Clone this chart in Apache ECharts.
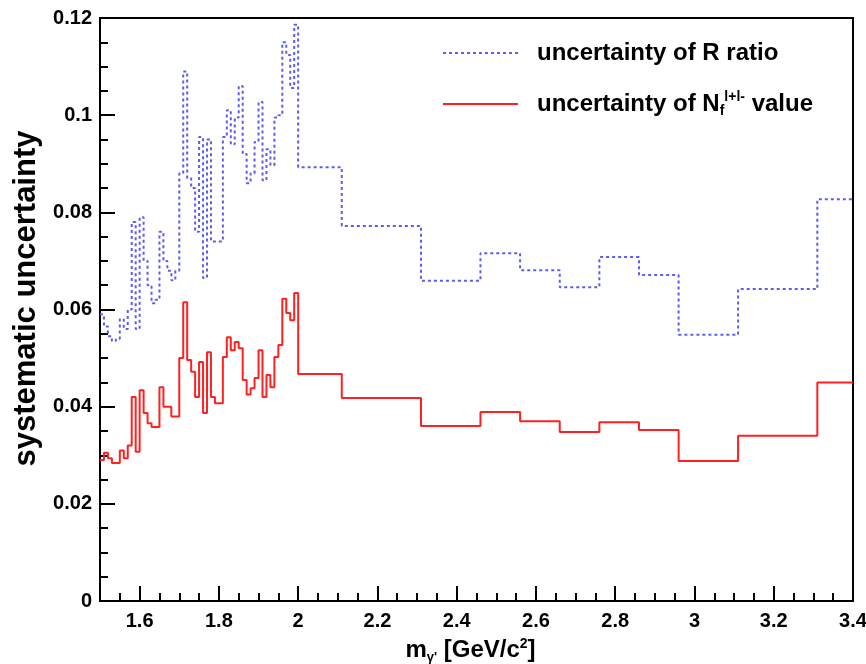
<!DOCTYPE html>
<html>
<head>
<meta charset="utf-8">
<script src="https://cdn.jsdelivr.net/npm/echarts@6/dist/echarts.min.js"></script>
<style>
  html, body { margin: 0; padding: 0; background: #fff; }
  #main { width: 866px; height: 664px; }
</style>
</head>
<body>
<div id="main"></div>
<script>
// fine bins 1.50 - 2.00, width 0.01
var fineStart = 1.5;
var fineWidth = 0.01;
var redFine = [
  0.029, 0.0305, 0.0294, 0.0284, 0.0284, 0.031, 0.0294, 0.032, 0.042, 0.0307,
  0.0434, 0.0387, 0.0366, 0.0358, 0.0358, 0.044, 0.040, 0.040, 0.038, 0.038,
  0.050, 0.0615, 0.0496, 0.0472, 0.042, 0.0492, 0.0387, 0.0512, 0.042, 0.0407,
  0.0407, 0.0502, 0.0543, 0.0516, 0.0533, 0.052, 0.0455, 0.0425, 0.0438, 0.0459,
  0.0516, 0.042, 0.0465, 0.044, 0.0502, 0.0527, 0.0622, 0.0593, 0.0578, 0.0634
];
var blueFine = [
  0.059, 0.0565, 0.0545, 0.0535, 0.054, 0.058, 0.056, 0.060, 0.078, 0.056,
  0.079, 0.070, 0.065, 0.0613, 0.062, 0.076, 0.070, 0.068, 0.066, 0.068,
  0.088, 0.109, 0.087, 0.085, 0.076, 0.0955, 0.0665, 0.095, 0.074, 0.074,
  0.074, 0.0955, 0.101, 0.094, 0.0995, 0.106, 0.092, 0.086, 0.088, 0.0945,
  0.1027, 0.0866, 0.093, 0.0897, 0.0995, 0.100, 0.115, 0.1124, 0.1056, 0.1186
];
// wide bins above 2.0
var wideEdges = [2.0, 2.11, 2.31, 2.46, 2.56, 2.66, 2.76, 2.86, 2.96, 3.11, 3.31, 3.4];
var redWide = [0.0467, 0.0418, 0.036, 0.0389, 0.037, 0.0348, 0.0368, 0.0352, 0.0288, 0.034, 0.045];
var blueWide = [0.0893, 0.0772, 0.0659, 0.0716, 0.0681, 0.0646, 0.0708, 0.0671, 0.0548, 0.0642, 0.0827];

var xMajorTicks = [1.6, 1.8, 2.0, 2.2, 2.4, 2.6, 2.8, 3.0, 3.2, 3.4];
var xMinorTicks = [1.55, 1.6, 1.65, 1.7, 1.75, 1.8, 1.85, 1.9, 1.95, 2.0, 2.05, 2.1, 2.15, 2.2,
  2.25, 2.3, 2.35, 2.4, 2.45, 2.5, 2.55, 2.6, 2.65, 2.7, 2.75, 2.8, 2.85, 2.9, 2.95, 3.0,
  3.05, 3.1, 3.15, 3.2, 3.25, 3.3, 3.35];

var seriesNames = ['uncertainty of R ratio', 'uncertainty of N_f^l+l- value'];

function histPoints(fine, wide) {
  var pts = [];
  for (var i = 0; i < fine.length; i++) {
    pts.push([+(fineStart + i * fineWidth).toFixed(2), fine[i]]);
  }
  for (var j = 0; j < wide.length; j++) {
    pts.push([wideEdges[j], wide[j]]);
  }
  pts.push([wideEdges[wideEdges.length - 1], wide[wide.length - 1]]);
  return pts;
}

var FONT = '"Liberation Sans", Arial, Helvetica, sans-serif';
var myChart = echarts.init(document.getElementById('main'));

var option = {
  backgroundColor: '#fff',
  animation: false,
  grid: {
    left: 100, right: 13, top: 18, bottom: 63,
    outerBoundsMode: 'none',
    containLabel: false,
    show: true, borderColor: '#000', borderWidth: 2, backgroundColor: 'transparent'
  },
  legend: {
    orient: 'vertical',
    left: 437,
    top: 36,
    itemWidth: 75,
    itemHeight: 14,
    itemGap: 25,
    itemStyle: { opacity: 0 },
    data: seriesNames,
    formatter: function (name) {
      if (name === seriesNames[1]) {
        return '{t|uncertainty of N}{sub|f}{sup|l+l-}{t| value}';
      }
      return '{t|' + name + '}';
    },
    textStyle: {
      fontFamily: FONT,
      fontWeight: 'bold',
      fontSize: 24,
      color: '#000',
      padding: [0, 0, 0, 14],
      rich: {
        t: { fontFamily: FONT, fontWeight: 'bold', fontSize: 24, color: '#000' },
        sub: { fontFamily: FONT, fontWeight: 'bold', fontSize: 14, color: '#000', verticalAlign: 'bottom', padding: [14, 0, 0, 0] },
        sup: { fontFamily: FONT, fontWeight: 'bold', fontSize: 14, color: '#000', verticalAlign: 'top', padding: [0, 0, 14, 0] }
      }
    }
  },
  xAxis: [{
    type: 'value',
    min: 1.5,
    max: 3.4,
    position: 'bottom',
    name: '{t|m}{sub|γ\'}{t| [GeV/c}{sup|2}{t|]}',
    nameLocation: 'middle',
    nameGap: 36,
    nameTextStyle: {
      padding: [0, 12, 0, 0],
      rich: {
        t: { fontFamily: FONT, fontWeight: 'bold', fontSize: 24, color: '#000' },
        sub: { fontFamily: FONT, fontWeight: 'bold', fontSize: 13, color: '#000', verticalAlign: 'bottom', padding: [14, 0, 0, 0] },
        sup: { fontFamily: FONT, fontWeight: 'bold', fontSize: 14, color: '#000', verticalAlign: 'top', padding: [0, 0, 12, 0] }
      }
    },
    axisLine: { show: true, onZero: false, lineStyle: { color: '#000', width: 2 } },
    axisTick: { show: true, inside: true, length: 15, customValues: xMajorTicks, lineStyle: { color: '#000', width: 2 } },
    axisLabel: {
      customValues: xMajorTicks,
      margin: 10,
      fontFamily: FONT, fontWeight: 'bold', fontSize: 20, color: '#000'
    },
    splitLine: { show: false }
  }, {
    type: 'value',
    min: 1.5,
    max: 3.4,
    position: 'bottom',
    axisLine: { show: false },
    axisTick: { show: true, inside: true, length: 8, customValues: xMinorTicks, lineStyle: { color: '#000', width: 2 } },
    axisLabel: { show: false },
    splitLine: { show: false }
  }],
  yAxis: {
    type: 'value',
    min: 0,
    max: 0.12,
    interval: 0.02,
    name: 'systematic uncertainty',
    nameLocation: 'middle',
    nameGap: 54,
    nameTextStyle: { fontFamily: FONT, fontWeight: 'bold', fontSize: 31, color: '#000', padding: [0, 0, 0, 22] },
    axisLine: { show: true, lineStyle: { color: '#000', width: 2 } },
    axisTick: { show: true, inside: true, length: 15, lineStyle: { color: '#000', width: 2 } },
    minorTick: { show: true, splitNumber: 4, length: 8, lineStyle: { color: '#000', width: 2 } },
    axisLabel: { margin: 8, fontFamily: FONT, fontWeight: 'bold', fontSize: 20, color: '#000' },
    splitLine: { show: false },
    minorSplitLine: { show: false }
  },
  series: [{
    name: seriesNames[0],
    type: 'line',
    step: 'end',
    symbol: 'none',
    xAxisIndex: 0,
    color: '#5c5cee',
    lineStyle: { color: '#5c5cee', width: 2, type: [3, 3] },
    data: histPoints(blueFine, blueWide)
  }, {
    name: seriesNames[1],
    type: 'line',
    step: 'end',
    symbol: 'none',
    xAxisIndex: 0,
    color: '#ff2020',
    lineStyle: { color: '#ff2020', width: 2 },
    data: histPoints(redFine, redWide)
  }]
};

myChart.setOption(option);
</script>
</body>
</html>
